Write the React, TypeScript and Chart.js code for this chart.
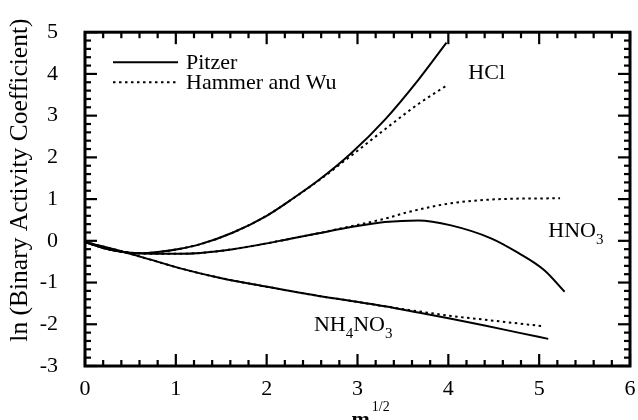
import React, { useEffect, useRef } from 'react';
import { Chart, registerables } from 'chart.js';

Chart.register(...registerables);

// ---- data (x = m^1/2, y = ln binary activity coefficient) ----
const hclPitzerX = [0, 0.2, 0.4, 0.6, 0.8, 1.05, 1.27, 1.63, 2.0, 2.26, 2.57, 2.93, 3.3, 3.67, 3.98];
const hclPitzerY = [-0.03, -0.17, -0.26, -0.3, -0.27, -0.19, -0.08, 0.2, 0.6, 0.97, 1.45, 2.1, 2.9, 3.86, 4.75];
const hclHWX = [0, 0.2, 0.4, 0.6, 0.8, 1.05, 1.27, 1.63, 2.0, 2.26, 2.57, 2.93, 3.3, 3.67, 3.98];
const hclHWY = [-0.03, -0.17, -0.26, -0.3, -0.27, -0.19, -0.08, 0.2, 0.6, 0.97, 1.44, 2.04, 2.67, 3.28, 3.72];

const hno3PitzerX = [0, 0.2, 0.4, 0.6, 0.8, 1.05, 1.27, 1.63, 1.93, 2.26, 2.57, 2.93, 3.3, 3.67, 4.03, 4.47, 4.77, 5.06, 5.28];
const hno3PitzerY = [-0.03, -0.17, -0.26, -0.3, -0.31, -0.31, -0.29, -0.2, -0.09, 0.05, 0.18, 0.33, 0.45, 0.49, 0.37, 0.06, -0.29, -0.71, -1.22];
const hno3HWX = [0, 0.2, 0.4, 0.6, 0.8, 1.05, 1.27, 1.63, 1.93, 2.26, 2.57, 2.93, 3.3, 3.56, 4.03, 4.58, 5.23];
const hno3HWY = [-0.03, -0.17, -0.26, -0.3, -0.31, -0.31, -0.29, -0.2, -0.09, 0.05, 0.18, 0.35, 0.53, 0.69, 0.9, 1.0, 1.02];

const nh4no3PitzerX = [0, 0.35, 0.72, 1.05, 1.49, 2.0, 2.57, 2.93, 3.3, 3.67, 4.03, 4.4, 4.77, 5.1];
const nh4no3PitzerY = [-0.03, -0.22, -0.45, -0.66, -0.89, -1.1, -1.32, -1.44, -1.57, -1.72, -1.87, -2.03, -2.2, -2.35];
const nh4no3HWX = [0, 0.35, 0.72, 1.05, 1.49, 2.0, 2.57, 2.93, 3.3, 3.67, 4.03, 4.4, 4.77, 5.06];
const nh4no3HWY = [-0.03, -0.22, -0.45, -0.66, -0.89, -1.1, -1.32, -1.44, -1.57, -1.69, -1.8, -1.89, -1.98, -2.05];

const xTickValues = [0, 1, 2, 3, 4, 5, 6];
const yTickValues = [-3, -2, -1, 0, 1, 2, 3, 4, 5];
const legendLabels = ['Pitzer', 'Hammer and Wu'];
const yAxisTitle = 'ln (Binary Activity Coefficient)';
const xAxisTitleMain = 'm';
const xAxisTitleSup = '1/2';

const SERIF = "'Liberation Serif', 'Times New Roman', serif";

const zip = (xs: number[], ys: number[]) => xs.map((x, i) => ({ x, y: ys[i] }));

const solid = (label: string, data: { x: number; y: number }[]) => ({
  label,
  data,
  borderColor: '#000',
  borderWidth: 2,
  pointRadius: 0,
  fill: false,
  cubicInterpolationMode: 'monotone' as const,
  order: 2,
});
const dotted = (label: string, data: { x: number; y: number }[]) => ({
  label,
  data,
  borderColor: '#000',
  borderWidth: 2,
  borderDash: [2.5, 3.5],
  pointRadius: 0,
  fill: false,
  cubicInterpolationMode: 'monotone' as const,
  order: 1,
});

function drawRich(ctx: CanvasRenderingContext2D, parts: [string, boolean][], x: number, y: number) {
  let cx = x;
  for (const [t, sub] of parts) {
    ctx.font = sub ? `15px ${SERIF}` : `22px ${SERIF}`;
    ctx.fillText(t, cx, sub ? y + 7 : y);
    cx += ctx.measureText(t).width;
  }
}

const decorPlugin = {
  id: 'decor',
  afterDraw(chart: any) {
    const { ctx, chartArea: a, scales } = chart;
    const xs = scales.x;
    const ys = scales.y;
    ctx.save();
    ctx.strokeStyle = '#000';
    ctx.fillStyle = '#000';
    const seg = (x1: number, y1: number, x2: number, y2: number) => {
      ctx.beginPath();
      ctx.moveTo(x1, y1);
      ctx.lineTo(x2, y2);
      ctx.stroke();
    };
    // ticks (inward, mirrored)
    ctx.lineWidth = 2.2;
    for (let i = 0; i <= 30; i++) {
      const v = i * 0.2;
      const px = xs.getPixelForValue(v);
      const len = i % 5 === 0 ? 12 : 6;
      seg(px, a.bottom, px, a.bottom - len);
      seg(px, a.top, px, a.top + len);
    }
    for (let i = 0; i <= 40; i++) {
      const v = -3 + i * 0.2;
      const py = ys.getPixelForValue(v);
      const len = i % 5 === 0 ? 12 : 6;
      seg(a.left, py, a.left + len, py);
      seg(a.right, py, a.right - len, py);
    }
    // frame
    ctx.lineWidth = 3;
    ctx.strokeRect(a.left, a.top, a.right - a.left, a.bottom - a.top);

    // legend
    ctx.lineWidth = 2;
    ctx.setLineDash([]);
    seg(a.left + 28, a.top + 30, a.left + 93, a.top + 30);
    ctx.setLineDash([2.5, 3.5]);
    seg(a.left + 28, a.top + 50, a.left + 93, a.top + 50);
    ctx.setLineDash([]);
    ctx.font = `22px ${SERIF}`;
    ctx.textAlign = 'left';
    ctx.textBaseline = 'alphabetic';
    ctx.fillText(legendLabels[0], a.left + 101, a.top + 37);
    ctx.fillText(legendLabels[1], a.left + 101, a.top + 57);

    // species labels
    drawRich(ctx, [['HCl', false]], xs.getPixelForValue(4.22), ys.getPixelForValue(3.88));
    drawRich(ctx, [['HNO', false], ['3', true]], xs.getPixelForValue(5.1), ys.getPixelForValue(0.1));
    drawRich(ctx, [['NH', false], ['4', true], ['NO', false], ['3', true]], xs.getPixelForValue(2.52), ys.getPixelForValue(-2.17));

    // y title
    ctx.save();
    ctx.translate(20, (a.top + a.bottom) / 2 - 19);
    ctx.rotate(-Math.PI / 2);
    ctx.font = `25.5px ${SERIF}`;
    ctx.textAlign = 'center';
    ctx.textBaseline = 'middle';
    ctx.fillText(yAxisTitle, 0, 0);
    ctx.restore();

    // x title
    const cx = (a.left + a.right) / 2;
    ctx.font = `bold 22px ${SERIF}`;
    ctx.textAlign = 'left';
    ctx.textBaseline = 'alphabetic';
    ctx.fillText(xAxisTitleMain, cx - 6, a.bottom + 60);
    const mw = ctx.measureText(xAxisTitleMain).width;
    ctx.font = `14px ${SERIF}`;
    ctx.fillText(xAxisTitleSup, cx - 6 + mw + 2, a.bottom + 45);
    ctx.restore();
  },
};

export default function App() {
  const ref = useRef<HTMLCanvasElement | null>(null);
  useEffect(() => {
    if (!ref.current) return;
    const chart = new Chart(ref.current, {
      type: 'line',
      data: {
        datasets: [
          solid('HCl Pitzer', zip(hclPitzerX, hclPitzerY)),
          dotted('HCl Hammer and Wu', zip(hclHWX, hclHWY)),
          solid('HNO3 Pitzer', zip(hno3PitzerX, hno3PitzerY)),
          dotted('HNO3 Hammer and Wu', zip(hno3HWX, hno3HWY)),
          solid('NH4NO3 Pitzer', zip(nh4no3PitzerX, nh4no3PitzerY)),
          dotted('NH4NO3 Hammer and Wu', zip(nh4no3HWX, nh4no3HWY)),
        ],
      },
      options: {
        responsive: false,
        animation: false,
        devicePixelRatio: 1,
        layout: { padding: { left: 0, top: 24, right: 8, bottom: 0 } },
        plugins: { legend: { display: false }, tooltip: { enabled: false } },
        scales: {
          x: {
            type: 'linear',
            min: 0,
            max: 6,
            afterBuildTicks: (s: any) => {
              s.ticks = xTickValues.map((v) => ({ value: v }));
            },
            afterFit: (s: any) => {
              s.height = 54;
            },
            grid: { display: false },
            border: { display: false },
            ticks: { color: '#000', padding: 2, font: { family: SERIF, size: 22 }, maxRotation: 0 },
          },
          y: {
            type: 'linear',
            min: -3,
            max: 5,
            afterBuildTicks: (s: any) => {
              s.ticks = yTickValues.map((v) => ({ value: v }));
            },
            afterFit: (s: any) => {
              s.width = 85;
            },
            grid: { display: false },
            border: { display: false },
            ticks: { color: '#000', padding: 19, font: { family: SERIF, size: 22 } },
          },
        },
      },
      plugins: [decorPlugin],
    });
    return () => chart.destroy();
  }, []);
  return (
    <div style={{ position: 'absolute', left: 0, top: 0, width: 638, height: 420, background: '#fff' }}>
      <canvas ref={ref} width={638} height={420} style={{ display: 'block' }} />
    </div>
  );
}
